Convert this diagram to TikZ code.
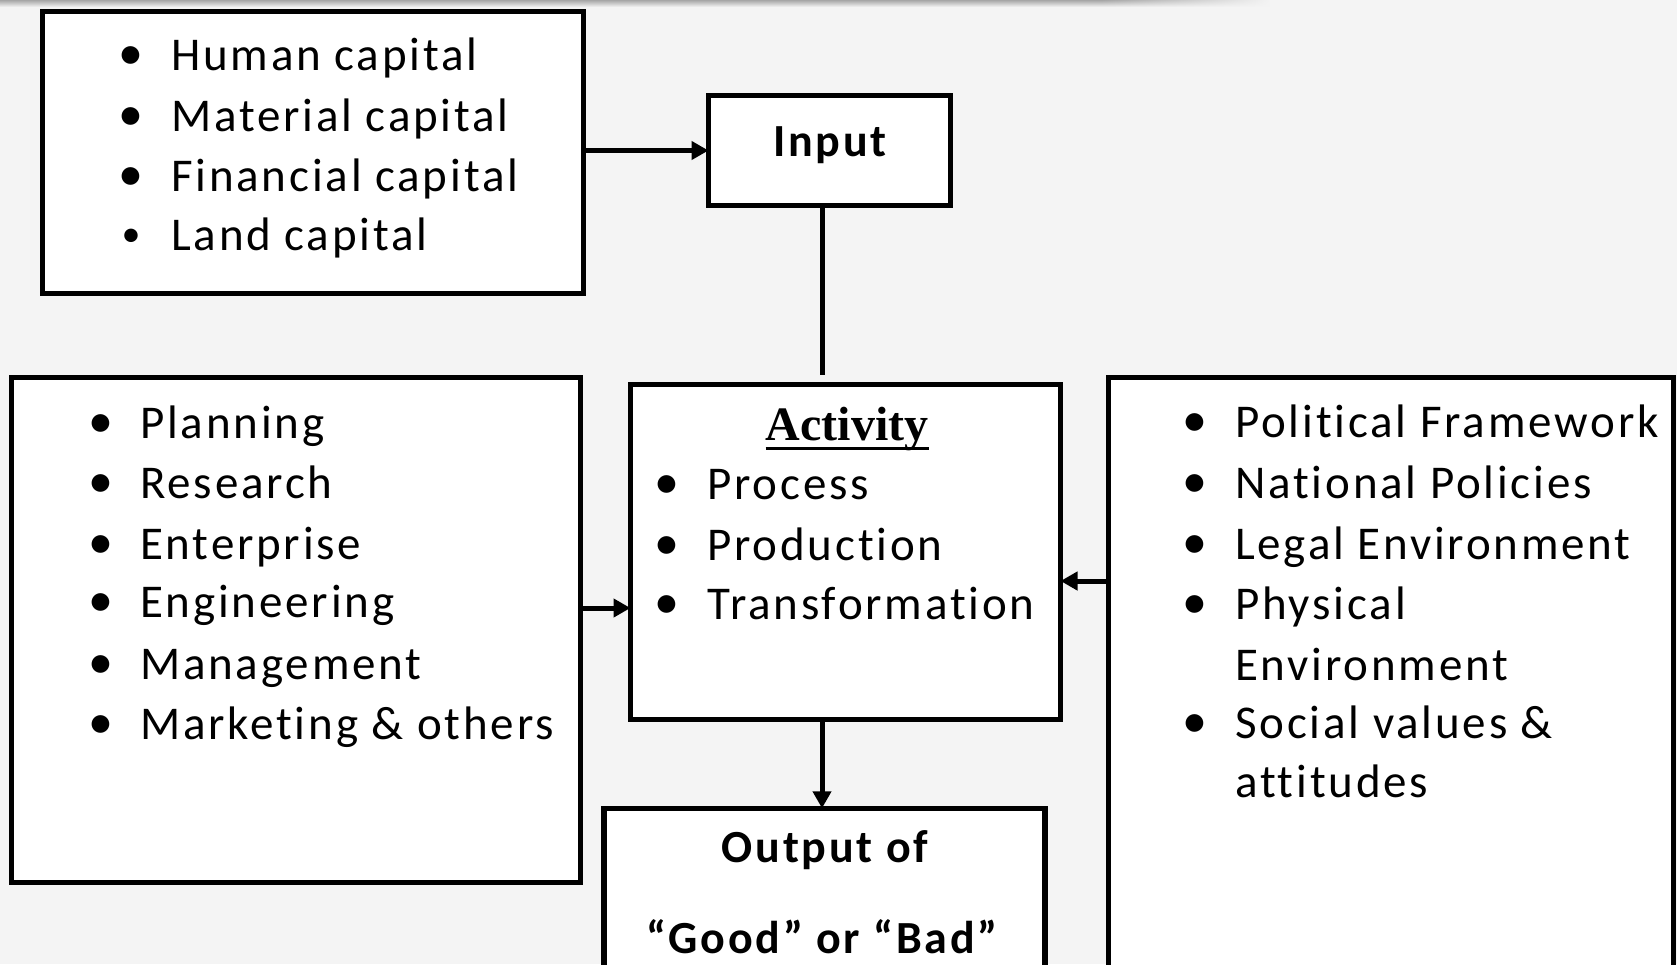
\documentclass[tikz,border=0pt]{standalone}
\usepackage{fontspec}
\setmainfont{Carlito}[LetterSpace=6, Ligatures={NoCommon}]
\newfontfamily\titlefont{Liberation Serif}
\usetikzlibrary{arrows.meta,fadings}
\definecolor{bgc}{RGB}{244,244,244}
\tikzfading[name=fadeout, left color=transparent!0, right color=transparent!100]

\begin{document}
\begin{tikzpicture}[x=1pt,y=-1pt,
  box/.style={draw=black, fill=white, line width=5.5pt, inner sep=0pt, outer sep=0pt},
  item/.style={anchor=base west, inner sep=0pt, font=\fontsize{47}{56}\selectfont},
  dot/.style={anchor=center, inner sep=0pt, font=\fontsize{50}{56}\selectfont},
  smalldot/.style={dot, font=\fontsize{38}{44}\selectfont},
  head/.style={anchor=base, inner sep=0pt, font=\fontsize{46}{56}\selectfont\bfseries},
  link/.style={line width=5pt},
  arr/.style={link, -{Triangle[length=17pt,width=18pt]}}]

% page and background
\useasboundingbox (0,0) rectangle (1677,964);
\clip (0,0) rectangle (1677,964);
\fill[bgc] (0,0) rectangle (1677,964);
\shade[top color=gray!70, bottom color=bgc] (0,0) rectangle (1100,7);
\shade[top color=gray!70, bottom color=bgc, path fading=fadeout] (1100,0) rectangle (1270,7);

% boxes
\node[box, minimum width=541pt, minimum height=282pt] (capital) at (313,152.5) {};
\node[box, minimum width=242pt, minimum height=110pt] (input) at (829.5,150.5) {};
\node[box, minimum width=569pt, minimum height=505pt] (skills) at (296,630) {};
\node[box, minimum width=430pt, minimum height=335pt] (activity) at (845.5,552) {};
\node[box, minimum width=565pt, minimum height=623pt] (environ) at (1391,689) {};
\node[box, minimum width=441pt, minimum height=192pt] (output) at (824.25,904.25) {};

% capital list
\foreach \y in {70,131,191}
  \node[dot] at (131,\y-12) {•};
\node[smalldot] (capdot) at (131,250-12) {•};
\node[item] (cap1) at (171,70) {Human capital};
\node[item] (cap2) at (171,131) {Material capital};
\node[item] (cap3) at (171,191) {Financial capital};
\node[item] (cap4) at (171,250) {Land capital};

% input label
\node[head] (inputlbl) at (830,156) {Input};

% skills list
\foreach \y in {438,498,559,617,679,739}
  \node[dot] at (101,\y-12) {•};
\node[item] (sk1) at (140,438) {Planning};
\node[item] (sk2) at (140,498) {Research};
\node[item] (sk3) at (140,559) {Enterprise};
\node[item] (sk4) at (140,617) {Engineering};
\node[item] (sk5) at (140,679) {Management};
\node[item] (sk6) at (140,739) {Marketing \& others};

% activity list
\node[anchor=base, inner sep=0pt, font=\titlefont\fontsize{48}{56}\selectfont\bfseries] (acttitle) at (847,440) {Activity};
\draw[line width=3pt] ([yshift=-8pt]acttitle.base west) -- ([yshift=-8pt]acttitle.base east);
\foreach \y in {499,560,619}
  \node[dot] at (667,\y-12) {•};
\node[item] (act1) at (707,499) {Process};
\node[item] (act2) at (707,560) {Production};
\node[item] (act3) at (707,619) {Transformation};

% environment list
\foreach \y in {437,498,559,619,738}
  \node[dot] at (1195,\y-12) {•};
\node[item] (env1) at (1235,437) {Political Framework};
\node[item] (env2) at (1235,498) {National Policies};
\node[item] (env3) at (1235,559) {Legal Environment};
\node[item] (env4) at (1235,619) {Physical};
\node[item] (env5) at (1235,680) {Environment};
\node[item] (env6) at (1235,738) {Social values \&};
\node[item] (env7) at (1235,797) {attitudes};

% output label
\node[head] (out1) at (825,862) {Output of};
\node[head] (out2) at (822,953) {“Good” or “Bad”};

% connectors
\coordinate (gapend) at (822,375);
\coordinate (lrow) at (0,608);
\coordinate (rrow) at (0,581);
\draw[arr] (capital.east |- input.west) -- (input.west);
\draw[link] (input.south -| gapend) -- (gapend);
\draw[arr] (skills.east |- lrow) -- (activity.west |- lrow);
\draw[arr] (environ.west |- rrow) -- (activity.east |- rrow);
\draw[arr] (activity.south -| gapend) -- (output.north -| gapend);
\end{tikzpicture}
\end{document}
